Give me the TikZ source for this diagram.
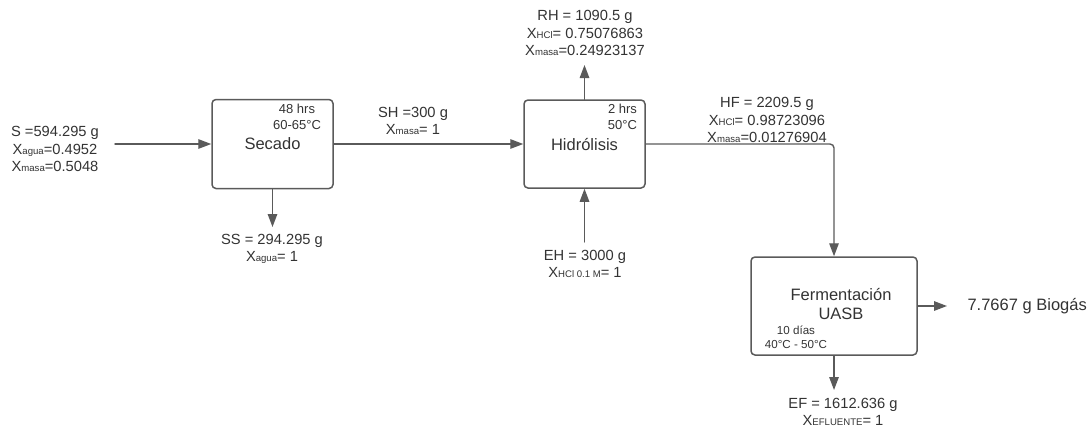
\documentclass[tikz,border=0pt]{standalone}
\usepackage{fontspec}
\setmainfont{Liberation Sans}
\usetikzlibrary{arrows.meta}
\definecolor{linegray}{HTML}{5A5A5A}
\definecolor{textgray}{HTML}{333333}
\newcommand{\xsub}[1]{{\fontsize{9.6}{10}\selectfont #1}}

\begin{document}
\begin{tikzpicture}[x=1pt,y=-1pt,line cap=round,line join=round,
  unit/.style={draw=linegray,line width=1.5pt,rounded corners=4pt,text=textgray,
    font=\fontsize{16.5}{19}\selectfont},
  flow/.style={draw=linegray,line width=1.4pt,
    -{Triangle[length=13pt,width=9.5pt]}},
  big/.style={text=textgray,align=center,font=\fontsize{16.5}{19}\selectfont},
  lbl/.style={text=textgray,align=center,font=\fontsize{14.7}{17.5}\selectfont},
  note/.style={text=textgray,align=center,font=\fontsize{13}{16}\selectfont},
  tiny/.style={text=textgray,align=center,font=\fontsize{11.6}{13.5}\selectfont}]
\useasboundingbox (0,0) rectangle (1091,432);

% Process units.
\node[unit,minimum width=121pt,minimum height=89pt] (secado) at (272.5,144) {Secado};
\node[unit,minimum width=121pt,minimum height=88pt] (hidro) at (584.5,144) {Hidrólisis};
\node[unit,minimum width=166pt,minimum height=98pt] (ferm) at (834,306) {};
\node[big] (fermtitle) at (841,303.5) {Fermentación\\UASB};

% Operating conditions.
\node[note] (secadocond) at (297,117) {48 hrs\\60-65°C};
\node[note] (hidrocond) at (622.5,117) {2 hrs\\50°C};
\node[tiny] (fermcond) at (796,337.5) {10 días\\40°C - 50°C};

% Stream end points.
\coordinate (sin) at (115,144);
\coordinate (ssend) at (272.5,227);
\coordinate (rhend) at (584.5,65);
\coordinate (ehstart) at (584.5,242);
\coordinate (bioend) at (947,306);
\coordinate (efend) at (834,390);

% Streams.
\draw[flow] (sin) -- (secado.west);
\draw[flow] (secado.south) -- (ssend);
\draw[flow] (secado.east) -- (hidro.west);
\draw[flow] (hidro.north) -- (rhend);
\draw[flow] (ehstart) -- (hidro.south);
\draw[flow,rounded corners=4pt] (hidro.east) -| (ferm.north);
\draw[flow] (ferm.east) -- (bioend);
\draw[flow] (ferm.south) -- (efend);

% Stream data.
\node[lbl] (s) at (55,149) {S =594.295 g\\X\xsub{agua}=0.4952\\X\xsub{masa}=0.5048};
\node[lbl] (ss) at (272,249) {SS = 294.295 g\\X\xsub{agua}= 1};
\node[lbl] (sh) at (413,121) {SH =300 g\\X\xsub{masa}= 1};
\node[lbl] (rh) at (585,33) {RH = 1090.5 g\\X\xsub{HCl}= 0.75076863\\X\xsub{masa}=0.24923137};
\node[lbl] (eh) at (585,264) {EH = 3000 g\\X\xsub{HCl 0.1 M}= 1};
\node[lbl] (hf) at (767,120) {HF = 2209.5 g\\X\xsub{HCl}= 0.98723096\\X\xsub{masa}=0.01276904};
\node[lbl] (ef) at (843,412) {EF = 1612.636 g\\X\xsub{EFLUENTE}= 1};
\node[big,anchor=west] (biogas) at (964,306) {7.7667 g Biogás};
\end{tikzpicture}
\end{document}
